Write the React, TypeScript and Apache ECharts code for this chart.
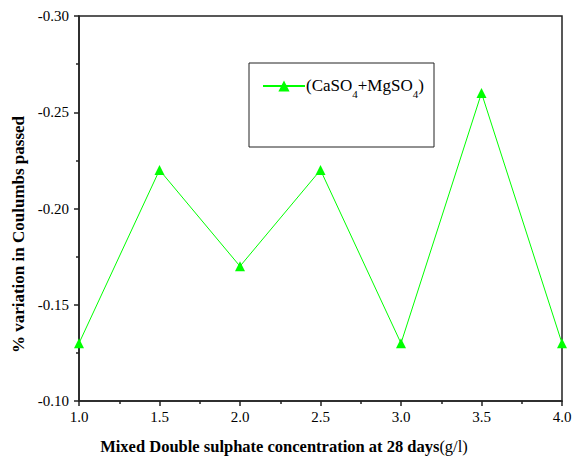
import React, { useEffect, useRef } from "react";
import * as echarts from "echarts";

const concentrations = [1.0, 1.5, 2.0, 2.5, 3.0, 3.5, 4.0];
const variation = [-0.13, -0.22, -0.17, -0.22, -0.13, -0.26, -0.13];
const seriesName = "(CaSO4+MgSO4)";

const FONT = "'Liberation Serif', 'Times New Roman', serif";

export default function App() {
  const ref = useRef<HTMLDivElement>(null);
  useEffect(() => {
    if (!ref.current) return;
    const chart = echarts.init(ref.current, null, { renderer: "svg" });
    const data = concentrations.map((x, i) => [x, variation[i]]);
    chart.setOption({
      animation: false,
      backgroundColor: "#ffffff",
      grid: { left: 79, right: 14, top: 16, bottom: 61, show: true, borderColor: "#222", borderWidth: 1.5, backgroundColor: "transparent" },
      xAxis: {
        type: "value",
        min: 1.0,
        max: 4.0,
        interval: 0.5,
        name: "{b|Mixed Double sulphate concentration at 28 days}{n|(g/l)}",
        nameLocation: "middle",
        nameGap: 37,
        nameTextStyle: {
          padding: [0, 73, 0, 0],
          rich: {
            b: { fontFamily: FONT, fontSize: 16.5, fontWeight: "bold", color: "#000" },
            n: { fontFamily: FONT, fontSize: 16.5, color: "#000" },
          },
        },
        axisLine: { show: true, lineStyle: { color: "#222", width: 1.5 } },
        axisTick: { show: true, inside: false, length: 5, lineStyle: { color: "#222", width: 1.5 } },
        minorTick: { show: true, splitNumber: 2, length: 3, lineStyle: { color: "#222", width: 1.5 } },
        axisLabel: { fontFamily: FONT, fontSize: 15, color: "#000", margin: 8, formatter: (v: number) => v.toFixed(1) },
        splitLine: { show: false },
      },
      yAxis: {
        type: "value",
        min: -0.30,
        max: -0.10,
        interval: 0.05,
        inverse: true,
        name: "% variation in Coulumbs passed",
        nameLocation: "middle",
        nameGap: 49,
        nameTextStyle: { fontFamily: FONT, fontSize: 17, fontWeight: "bold", color: "#000", padding: [0, 52, 0, 0] },
        axisLine: { show: true, lineStyle: { color: "#222", width: 1.5 } },
        axisTick: { show: true, inside: false, length: 5, lineStyle: { color: "#222", width: 1.5 } },
        minorTick: { show: true, splitNumber: 2, length: 3, lineStyle: { color: "#222", width: 1.5 } },
        axisLabel: { fontFamily: FONT, fontSize: 15, color: "#000", margin: 10, formatter: (v: number) => v.toFixed(2) },
        splitLine: { show: false },
      },
      legend: {
        show: true,
        left: 257,
        top: 72,
        itemWidth: 42,
        itemHeight: 14,
        itemGap: 0,
        data: [seriesName],
        formatter: () => "{m|(CaSO}{s|4}{m|+MgSO}{s|4}{m|)}",
        textStyle: {
          fontFamily: FONT,
          fontSize: 17,
          color: "#000",
          padding: [0, 0, 0, -4],
          rich: {
            m: { fontFamily: FONT, fontSize: 17, color: "#000", verticalAlign: "top", lineHeight: 18 },
            s: { fontFamily: FONT, fontSize: 11, color: "#000", verticalAlign: "top", lineHeight: 12, padding: [11, 0, 0, 0] },
          },
        },
      },
      graphic: [
        {
          type: "rect",
          shape: { x: 249, y: 63, width: 185, height: 84 },
          style: { fill: "none", stroke: "#222", lineWidth: 1 },
          z: 10,
        },
      ],
      series: [
        {
          name: seriesName,
          type: "line",
          data,
          symbol: "triangle",
          symbolSize: 10,
          clip: false,
          lineStyle: { color: "#00ff00", width: 1 },
          itemStyle: { color: "#00ff00" },
        },
      ],
    });
    return () => chart.dispose();
  }, []);
  return (
    <div
      ref={ref}
      style={{ position: "fixed", left: 0, top: 0, width: 576, height: 462 }}
    />
  );
}
